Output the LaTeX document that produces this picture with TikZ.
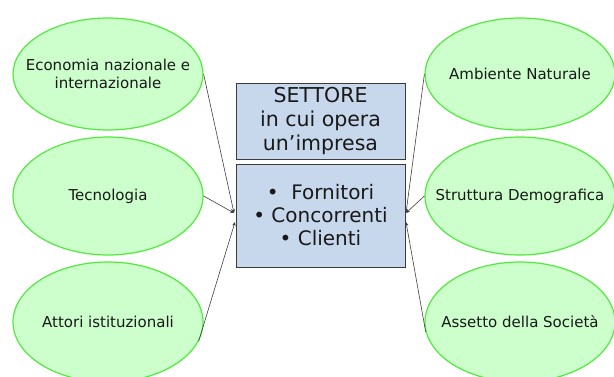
\documentclass[tikz,border=0pt]{standalone}
\usepackage{fontspec}
\setmainfont{DejaVu Sans}
\usetikzlibrary{shapes.geometric,arrows.meta}
\definecolor{ellfill}{RGB}{204,255,204}
\definecolor{elldraw}{RGB}{80,235,60}
\definecolor{boxfill}{RGB}{200,216,236}
\definecolor{boxdraw}{RGB}{60,60,60}
\definecolor{txt}{RGB}{25,25,25}
\tikzset{
  envlbl/.style={font=\fontsize{15}{17.5}\selectfont, text=txt, align=center, inner sep=0pt},
  env/.style={ellipse, draw=elldraw, fill=ellfill, line width=1.2pt,
    minimum width=190pt, minimum height=112pt, inner sep=0pt,
    label={[envlbl]center:#1}},
  sbox/.style={rectangle, draw=boxdraw, fill=boxfill, line width=1pt,
    minimum width=169pt, inner sep=0pt, text=txt, align=center},
  conn/.style={draw=black!75, line width=0.6pt, -{Stealth[length=4pt,width=3.5pt]}}
}
\begin{document}
\begin{tikzpicture}[x=1pt,y=-1pt]
\useasboundingbox (0,0) rectangle (614,376);
\clip (0,0) rectangle (614,376);
\node[env={Economia nazionale e\\internazionale}] (l1) at (108,74) {};
\node[env={Tecnologia},minimum height=118pt] (l2) at (108,196) {};
\node[env={Attori istituzionali},minimum height=120pt] (l3) at (108,322) {};
\node[env={Ambiente Naturale}] (r1) at (520,74) {};
\node[env={Struttura Demografica},minimum height=118pt] (r2) at (520,196) {};
\node[env={Assetto della Società},minimum height=120pt] (r3) at (520,322) {};
\node[sbox, minimum height=76pt, font=\fontsize{20.5}{24}\selectfont] (b1) at (320.5,121) {SETTORE\\in cui opera\\un’impresa};
\node[sbox, minimum height=103pt, font=\fontsize{20}{23}\selectfont] (b2) at (320.5,215.5) {\textbullet\ \ Fornitori\\\textbullet\ Concorrenti\\\textbullet\ Clienti};
\coordinate (la) at (234,213);
\coordinate (lb) at (235,222);
\coordinate (ra) at (406,213);
\coordinate (rb) at (406,222);
\draw[conn] (l1.east) -- (la);
\draw[conn] (l2.east) -- (la);
\draw[conn] (l3.-12) -- (lb);
\draw[conn] (r1.west) -- (ra);
\draw[conn] (r2.west) -- (ra);
\draw[conn] (r3.186) -- (rb);
\end{tikzpicture}
\end{document}
